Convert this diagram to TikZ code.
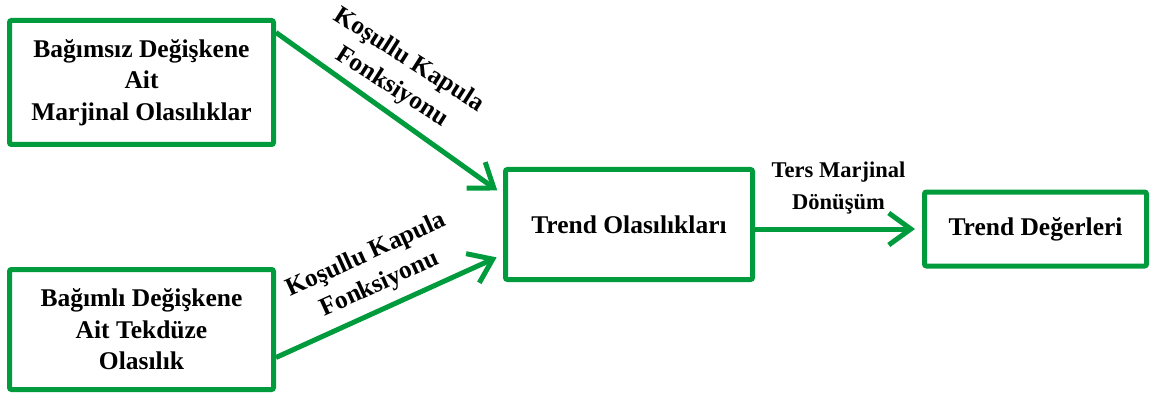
\documentclass[tikz,border=0pt]{standalone}
\usepackage{fontspec}
\setmainfont{Liberation Serif}
\usetikzlibrary{arrows.meta}
\definecolor{kgreen}{RGB}{0,155,60}
\tikzstyle{box}=[rectangle,
	line width=5pt,
	rounded corners=2pt,
	draw=kgreen,
	fill=white,
	align=center,
	font=\fontsize{25.5}{31.5}\selectfont\bfseries]
\tikzstyle{link}=[line width=5pt,
	draw=kgreen,
	shorten >=7pt,
	-{Straight Barb[length=22pt,width=32pt]}]
\tikzstyle{lbl}=[align=center,
	font=\fontsize{22.5}{32}\selectfont\bfseries]
\tikzstyle{kapula}=[align=center,
	sloped,
	font=\fontsize{25.5}{32}\selectfont\bfseries]
\begin{document}
\begin{tikzpicture}[x=1pt,y=-1pt]
	\useasboundingbox (0,0) rectangle (1158,398);
	\node (bagimsiz) [box, minimum width=264pt, minimum height=124pt] at (141.5,82.5) {Bağımsız Değişkene\\Ait\\Marjinal Olasılıklar};
	\node (bagimli) [box, minimum width=264pt, minimum height=120pt] at (141.5,329.5) {Bağımlı Değişkene\\Ait Tekdüze\\Olasılık};
	\node (trend) [box, minimum width=247pt, minimum height=110pt] at (629,224.5) {Trend Olasılıkları};
	\node (deger) [box, minimum width=222pt, minimum height=74pt] at (1035.5,229) {Trend Değerleri};

	\draw [link] ([yshift=-14.5pt]bagimsiz.north east) -- node [kapula, above=5pt, pos=0.455, rotate=3] {Koşullu Kapula\\Fonksiyonu} ([yshift=-27.5pt]trend.north west);
	\draw [link] ([yshift=34.5pt]bagimli.south east) -- node [kapula, above=6pt, pos=0.5] {Koşullu Kapula\\Fonksiyonu} ([yshift=27.5pt]trend.south west);
	\draw [link] (trend.east |- deger.west) -- node [lbl, above=9pt, midway] {Ters Marjinal\\Dönüşüm} (deger.west);
\end{tikzpicture}
\end{document}
